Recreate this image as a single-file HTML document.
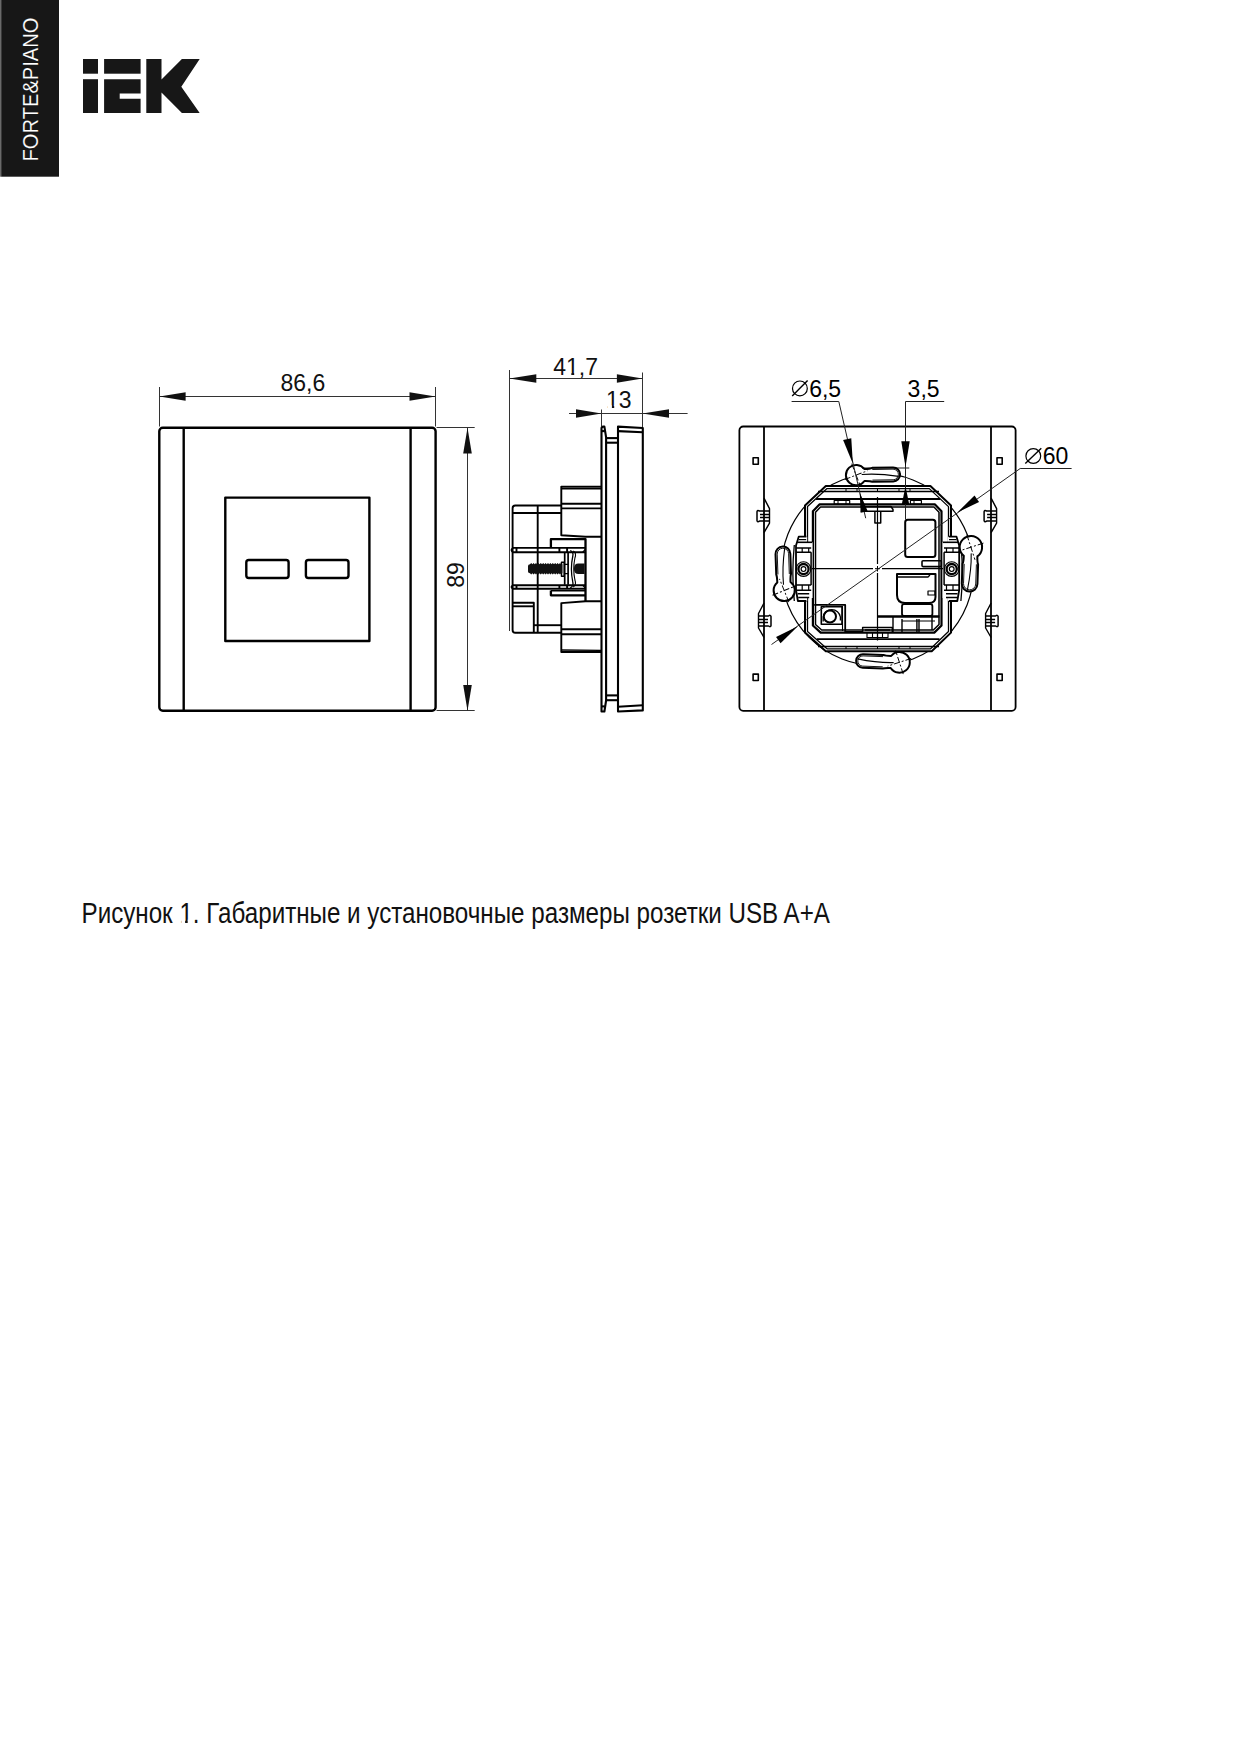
<!DOCTYPE html>
<html><head><meta charset="utf-8">
<style>
html,body{margin:0;padding:0;background:#fff;}
body{width:1239px;height:1746px;position:relative;overflow:hidden;}
svg{position:absolute;left:0;top:0;}
text{font-family:"Liberation Sans",sans-serif;}
</style></head>
<body>
<svg width="1239" height="1746" viewBox="0 0 1239 1746">
<!-- black side bar -->
<rect x="0" y="0" width="1.3" height="176.7" fill="#6a6a6a"/><rect x="1.2" y="0" width="57.8" height="176.7" fill="#171717"/>
<text transform="translate(37.9,161.5) rotate(-90)" font-size="22.8" fill="#fff" stroke="#171717" stroke-width="0.15" textLength="144" lengthAdjust="spacingAndGlyphs">FORTE&amp;PIANO</text>
<!-- IEK logo -->
<g fill="#171717">
<rect x="83" y="59" width="15" height="14.7"/>
<rect x="83" y="79.2" width="15" height="33.8"/>
<rect x="104.1" y="59" width="36.5" height="14.7"/>
<path d="M104.1 79.2H140.6V93.5H119.7V98.8H140.6V113H104.1Z"/>
<path d="M146.3 59H161.5V79.4L181.9 59H199.7L181.3 86.7L199.7 113H181.9L161.5 92.5V113H146.3Z"/>
</g>

<!-- FRONT VIEW -->
<g fill="none" stroke="#000" stroke-width="2.4" stroke-linejoin="round">
<rect x="159.3" y="427.7" width="276.3" height="283.1" rx="3.5"/>
<line x1="183.7" y1="427.7" x2="183.7" y2="710.8"/>
<line x1="410.6" y1="427.7" x2="410.6" y2="710.8"/>
<rect x="225.3" y="497.6" width="144.1" height="143.4"/>
<rect x="246.3" y="560" width="42.3" height="18" rx="2.5"/>
<rect x="305.9" y="560" width="42.6" height="18" rx="2.5"/>
</g>
<g fill="none" stroke="#333" stroke-width="1">
<line x1="159.5" y1="387" x2="159.5" y2="426.5"/>
<line x1="435.5" y1="387" x2="435.5" y2="426.5"/>
<line x1="159.5" y1="396.5" x2="435.5" y2="396.5"/>
<line x1="436.5" y1="427.5" x2="474.7" y2="427.5"/>
<line x1="436.5" y1="710.5" x2="474.7" y2="710.5"/>
<line x1="467.5" y1="427.7" x2="467.5" y2="710.8"/>
</g>
<g fill="#111">
<path d="M159.5 396.5L185.6 392.3V400.7Z"/>
<path d="M435.5 396.5L409.5 392.3V400.7Z"/>
<path d="M467.5 427.7L463.2 453.5H471.8Z"/>
<path d="M467.5 710.8L463.2 685H471.8Z"/>
</g>
<text x="280.5" y="390.5" font-size="23" fill="#111">86,6</text>
<text transform="translate(464.4,587.8) rotate(-90)" font-size="23" fill="#111">89</text>

<!-- SIDE VIEW -->
<g fill="none" stroke="#333" stroke-width="1">
<line x1="509.5" y1="370" x2="509.5" y2="631"/>
<line x1="642.5" y1="372.5" x2="642.5" y2="427"/>
<line x1="509.5" y1="378.5" x2="642.5" y2="378.5"/>
<line x1="601.5" y1="409.5" x2="601.5" y2="426"/>
<line x1="569" y1="413.5" x2="687.6" y2="413.5"/>
</g>
<g fill="#111">
<path d="M509.5 378.5L536.3 374.3V382.7Z"/>
<path d="M642.5 378.5L616.9 374.3V382.7Z"/>
<path d="M601.5 413.5L576 409.3V417.7Z"/>
<path d="M642.5 413.5L669 409.3V417.7Z"/>
</g>
<text x="553.2" y="375" font-size="23" fill="#111">41,7</text>
<text x="605.9" y="408.2" font-size="23" fill="#111">13</text>
<g fill="none" stroke="#000" stroke-width="2.1" stroke-linejoin="round">
<!-- thin plate -->
<path d="M601.5 428.5Q601.5 426.6 603.2 426.6H604.4L606.1 437.3V700.5L604.4 711.5H601.5Z"/>
<line x1="601.5" y1="431.1" x2="604.8" y2="431.1"/>
<line x1="601.5" y1="706.4" x2="604.8" y2="706.4"/>
<!-- connectors -->
<line x1="606.1" y1="438.1" x2="618" y2="438.1"/>
<line x1="606.1" y1="442.7" x2="618" y2="442.7"/>
<line x1="606.1" y1="695.4" x2="618" y2="695.4"/>
<line x1="606.1" y1="700.2" x2="618" y2="700.2"/>
<!-- front plate -->
<path d="M618 426.6L642.8 428V710.4L618 711.5Z"/>
<line x1="618" y1="431.1" x2="642.8" y2="432.2"/>
<line x1="618" y1="706.7" x2="642.8" y2="705.3"/>
</g>
<g fill="none" stroke="#000" stroke-width="1.9" stroke-linejoin="round">
<!-- upper block -->
<path d="M601.3 486.6H561.3V535.3L585.5 536.8H601.3"/>
<line x1="561.3" y1="488.5" x2="601.3" y2="488.5"/>
<line x1="561.3" y1="503.8" x2="601.3" y2="503.8"/>
<line x1="561.3" y1="508.4" x2="601.3" y2="508.4"/>
<!-- lower block -->
<path d="M601.3 601.3H585.5L561.3 603.1V652H601.3" />
<line x1="561.3" y1="629.2" x2="601.3" y2="629.2"/>
<line x1="561.3" y1="634.3" x2="601.3" y2="634.3"/>
<line x1="561.3" y1="650" x2="601.3" y2="650.4" stroke-width="1.3"/>
<!-- back box -->
<path d="M561.3 505.5H515.3Q512.6 505.5 512.6 508.2V630Q512.6 632.8 515.3 632.8H561.3"/>
<line x1="512.3" y1="513" x2="561.3" y2="513" stroke-width="2.2"/>
<line x1="537.7" y1="505.5" x2="537.7" y2="632.6"/>
<path d="M512.3 602.8H533.8V632.6"/>
<line x1="512.3" y1="606.3" x2="533.8" y2="606.3"/>
<line x1="533.8" y1="625.2" x2="561.3" y2="625.2"/>
<!-- clamp housing -->
<path d="M550.9 547.9V539.2H585.5V601.1" stroke-width="2.3"/>
<path d="M550.9 590.5V595.3H585.5" stroke-width="2.3"/><path d="M550.9 590.7H585.5" stroke-width="1.4"/>
<!-- rails -->
<path d="M513 547.9H585.3M513 552.3H585.3M513 547.9Q510 550.1 513 552.3"/>
<path d="M513 585.2H585.3M513 588.8H585.3M513 585.2Q510 587 513 588.8"/>
<line x1="516.5" y1="547.9" x2="516.5" y2="552.3"/>
<line x1="516.5" y1="585.2" x2="516.5" y2="588.8"/>
<line x1="559.4" y1="547.9" x2="559.4" y2="552.3"/>
<line x1="559.4" y1="585.2" x2="559.4" y2="588.8"/>
<line x1="567.1" y1="547.9" x2="567.1" y2="552.3"/>
<line x1="567.1" y1="585.2" x2="567.1" y2="588.8"/>
<path d="M582.5 552.3L585.3 549.5M582.5 585.2L585.3 588" stroke-width="1.2"/>
<!-- clamp parts -->
<path d="M564.7 552.3V584.7M568.1 552.3V584.7" stroke-width="1.7"/>
<path d="M564.7 564.4H568.1M564.7 573.6H568.1" stroke-width="1.3"/>
<path d="M570.2 550.5Q573.8 552 572.8 556Q570 569 572.8 582Q573.8 586 570.2 588" stroke-width="1.3"/>
<path d="M573.2 551Q576.8 553 574.9 558Q572.6 569 574.9 580Q576.8 585 573.2 587" stroke-width="1.1"/>
<rect x="561.5" y="562.2" width="2.7" height="14" stroke-width="1.5"/>
</g>
<!-- screw -->
<g fill="#111">
<path d="M528 566Q528 564.2 530 564.2L531.2 562.9L532.4 564.2L533.6 562.9L534.8 564.2L536.0 562.9L537.2 564.2L538.4 562.9L539.6 564.2L540.8 562.9L542.0 564.2L543.2 562.9L544.4 564.2L545.6 562.9L546.8 564.2L548.0 562.9L549.2 564.2L550.4 562.9L551.6 564.2L552.8 562.9L554.0 564.2L555.2 562.9L556.4 564.2L557.6 562.9L558.8 564.2L560.0 562.9L561.2 564.2L562.4 564.2V573.3L561.2 573.3L560.0 574.6L558.8 573.3L557.6 574.6L556.4 573.3L555.2 574.6L554.0 573.3L552.8 574.6L551.6 573.3L550.4 574.6L549.2 573.3L548.0 574.6L546.8 573.3L545.6 574.6L544.4 573.3L543.2 574.6L542.0 573.3L540.8 574.6L539.6 573.3L538.4 574.6L537.2 573.3L536.0 574.6L534.8 573.3L533.6 574.6L532.4 573.3L531.2 574.6L530.0 573.3L530 573.3Q528 573.3 528 571.5Z"/>
<path d="M578.5 563.4H584.6V574.1H578.5Q573.9 574.1 573.9 568.75Q573.9 563.4 578.5 563.4Z"/>
</g>
<!-- REAR VIEW -->
<g fill="none" stroke="#000" stroke-width="1.8" stroke-linejoin="round">
<rect x="739.4" y="426.5" width="276.2" height="284.3" rx="3.8"/>
<line x1="764" y1="426.5" x2="764" y2="710.8"/>
<line x1="991" y1="426.5" x2="991" y2="710.8"/>
<rect x="753.1" y="457.8" width="5.2" height="6.4" stroke-width="1.6"/>
<rect x="753.1" y="674.1" width="5.2" height="6.4" stroke-width="1.6"/>
<rect x="997.0" y="457.8" width="5.2" height="6.4" stroke-width="1.6"/>
<rect x="997.0" y="674.1" width="5.2" height="6.4" stroke-width="1.6"/>
<path d="M764 498.1L769.5 508.6V523.1L764 532.6" stroke-width="1.4"/><path d="M769.5 511.1H759.5Q757.5 509.6 757 511.6V520.6Q757.5 522.6 759.5 521.1H769.5M760 514.6H769.5M760 517.6H769.5" stroke-width="1.5"/>
<path d="M764 603.0L758.5 613.5V628.0L764 637.5" stroke-width="1.4"/><path d="M758.5 616.0H768.5Q770.5 614.5 771 616.5V625.5Q770.5 627.5 768.5 626.0H758.5M768 619.5H758.5M768 622.5H758.5" stroke-width="1.5"/>
<path d="M991.1 498.1L996.6 508.6V523.1L991.1 532.6" stroke-width="1.4"/><path d="M996.6 511.1H986.6Q984.6 509.6 984.1 511.6V520.6Q984.6 522.6 986.6 521.1H996.6M987.1 514.6H996.6M987.1 517.6H996.6" stroke-width="1.5"/>
<path d="M991.1 603.0L985.6 613.5V628.0L991.1 637.5" stroke-width="1.4"/><path d="M985.6 616.0H995.6Q997.6 614.5 998.1 616.5V625.5Q997.6 627.5 995.6 626.0H985.6M995.1 619.5H985.6M995.1 622.5H985.6" stroke-width="1.5"/>
</g>
<circle cx="877.5" cy="569.5" r="96.3" fill="none" stroke="#000" stroke-width="1.2"/>
<g fill="#fff" stroke="#000" stroke-width="1.8" stroke-linejoin="round">
<path d="M825.8 486.1H930.4L951 505.5V632.6L931.7 651.3H825.8L805 632.6V505.5Z" stroke-width="2"/>
</g>
<g fill="none" stroke="#000" stroke-width="1.5" stroke-linejoin="round">
<path d="M827 488.6H929.3L948.5 506.6V631.5L930.6 648.8H827L807.5 631.5V506.6Z" stroke-width="1.3"/>
<path d="M818 491.5H939" stroke-width="1.6"/>
<path d="M816 499H940.1" stroke-width="1.9"/>
<path d="M816.8 639.1H939.5" stroke-width="1.9"/>
<path d="M818 646.5H939" stroke-width="1.6"/>
<path d="M846 488.6V492M846 646.8V649" stroke-width="1"/>
<path d="M857 488.6V492M857 646.8V649" stroke-width="1"/>
<path d="M877.5 488.6V492M877.5 646.8V649" stroke-width="1"/>
<path d="M899 488.6V492M899 646.8V649" stroke-width="1"/>
<path d="M910 488.6V492M910 646.8V649" stroke-width="1"/>
<path d="M819.4 504.4H935L941.5 511.3V625.5L934.3 632.6H820.7L812.9 625.5V511.3Z" stroke-width="2.2"/>
<path d="M820.5 507H934L939 512.3V624.5L933.3 630H821.7L815.5 624.5V512.3Z" stroke-width="1.5"/>
<rect x="834.2" y="500.5" width="15.5" height="3.7" stroke-width="1.2"/>
<rect x="910.4" y="500.5" width="11" height="3.7" stroke-width="1.2"/>
<path d="M838 500.5V504.2M846 500.5V504.2M914 500.5V504.2" stroke-width="1"/>
<path d="M860.7 506.5H891L893 509.5V511.3H860.7" stroke-width="1.5"/>
<path d="M874.9 511.3V523H880.7V511.3" stroke-width="1.5"/>
<rect x="905.2" y="519.7" width="30.2" height="37.4" rx="2.5" stroke-width="2"/>
<rect x="922" y="560.8" width="19.4" height="5.8" rx="1" stroke-width="1.6"/>
<path d="M897 574H935.5V597Q935.5 603 929 603H905Q897 603 897 595Z" stroke-width="2"/>
<path d="M898 577H928L930 575" stroke-width="1.3"/>
<rect x="928" y="591" width="7" height="4" stroke-width="1.2"/>
<rect x="902" y="604.2" width="30.4" height="11.8" rx="2" stroke-width="1.8"/>
<path d="M877.5 616.5H939.5" stroke-width="2.4"/>
<path d="M893 616.5V632.6M902 619V632.6M916.9 619V632.6M919 619V632.6M932 617V630" stroke-width="1.4"/>
<path d="M902 621H935" stroke-width="1.2"/>
<path d="M862.6 632.6V627.5H892.3V632.6M865 630H890" stroke-width="1.4"/>
<path d="M867 632.6V637.5H888V632.6M872.5 632.6V637.5M877.5 632.6V637.5M882.5 632.6V637.5" stroke-width="1.1"/>
<path d="M814.2 604.9H845.2V632" stroke-width="1.8"/>
<path d="M842.5 606V631" stroke-width="1.1"/>
<rect x="821.3" y="606.8" width="20.7" height="17.4" stroke-width="1.6"/>
<circle cx="829.9" cy="616.5" r="6.1" stroke-width="2"/>
<path d="M823.2 621.5V617A8.7 8.7 0 0 1 840.4 617V620.5" stroke-width="1.3"/>
<path d="M845.2 632H862.6" stroke-width="2"/>
<path d="M942.6 542H948V536.7H956.5L959.2 545.5V590L957.3 601H948V598H942.6Z" fill="#fff" stroke="none"/><path d="M948.8 536.7H956.5L959.2 545.5V590L957.3 601H948.8" stroke-width="1.8"/><path d="M949 539.6H956.5" stroke-width="1.2"/><path d="M942.8 542.3H958" stroke-width="1.6"/><path d="M944 547.9H959M944 552.3H959M944 584.9H959M944 590.3H959M946 593.7H957.5M946 597.5H957" stroke-width="1.5"/><path d="M946.5 547.9V552.3M953 547.9V552.3M946.5 584.9V590.3M953 584.9V590.3" stroke-width="1.2"/><path d="M944.1 552.3V584.9" stroke-width="1.5"/><path d="M960.9 545Q963.8 573 960.9 601" stroke-width="1.3"/><circle cx="951.7" cy="569.1" r="7.3" stroke-width="1.1"/><circle cx="951.7" cy="569.1" r="5.1" stroke-width="2.3"/><circle cx="951.7" cy="569.1" r="2.4" stroke-width="1.2"/>
<g transform="translate(1755.2,0) scale(-1,1)"><path d="M942.6 542H948V536.7H956.5L959.2 545.5V590L957.3 601H948V598H942.6Z" fill="#fff" stroke="none"/><path d="M948.8 536.7H956.5L959.2 545.5V590L957.3 601H948.8" stroke-width="1.8"/><path d="M949 539.6H956.5" stroke-width="1.2"/><path d="M942.8 542.3H958" stroke-width="1.6"/><path d="M944 547.9H959M944 552.3H959M944 584.9H959M944 590.3H959M946 593.7H957.5M946 597.5H957" stroke-width="1.5"/><path d="M946.5 547.9V552.3M953 547.9V552.3M946.5 584.9V590.3M953 584.9V590.3" stroke-width="1.2"/><path d="M944.1 552.3V584.9" stroke-width="1.5"/><path d="M960.9 545Q963.8 573 960.9 601" stroke-width="1.3"/><circle cx="951.7" cy="569.1" r="7.3" stroke-width="1.1"/><circle cx="951.7" cy="569.1" r="5.1" stroke-width="2.3"/><circle cx="951.7" cy="569.1" r="2.4" stroke-width="1.2"/></g>
</g>
<g fill="#fff" stroke="#000" stroke-linejoin="round">
<g transform="translate(856.1,475.1) rotate(-1)"><path d="M8.25 -6.00Q14.25 -6.00 16.25 -7.00L37.00 -7.00A7.0 7.0 0 0 1 37.00 7.00L16.25 7.00Q14.25 6.00 8.25 6.00A10.2 10.2 0 1 1 8.25 -6.00Z" stroke-width="2"/><path d="M16.25 -5.30L37.00 -5.30A5.30 5.30 0 0 1 37.00 5.30L16.25 5.30" stroke-width="0.9"/><path d="M5.61 -0.5Q22.20 -1.5 42.60 2" stroke-width="1.1"/><path d="M-12.2 0H12.2M0 -12.2V12.2" stroke-width="0.9" stroke-dasharray="6 2 2 2" transform="rotate(-20)"/></g>
<g transform="translate(970.9,547.2) rotate(92)"><path d="M8.90 -6.80Q14.90 -6.80 16.90 -7.80L36.60 -7.80A7.8 7.8 0 0 1 36.60 7.80L16.90 7.80Q14.90 6.80 8.90 6.80A11.2 11.2 0 1 1 8.90 -6.80Z" stroke-width="2"/><path d="M16.90 -6.10L36.60 -6.10A6.10 6.10 0 0 1 36.60 6.10L16.90 6.10" stroke-width="0.9"/><path d="M6.16 -0.5Q21.96 -1.5 42.84 2" stroke-width="1.1"/><path d="M-13.2 0H13.2M0 -13.2V13.2" stroke-width="0.9" stroke-dasharray="6 2 2 2" transform="rotate(-20)"/></g>
<g transform="translate(899.4,662.3) rotate(182)"><path d="M8.49 -6.00Q14.49 -6.00 16.49 -6.80L36.50 -6.80A6.8 6.8 0 0 1 36.50 6.80L16.49 6.80Q14.49 6.00 8.49 6.00A10.4 10.4 0 1 1 8.49 -6.00Z" stroke-width="2"/><path d="M16.49 -5.10L36.50 -5.10A5.10 5.10 0 0 1 36.50 5.10L16.49 5.10" stroke-width="0.9"/><path d="M5.72 -0.5Q21.90 -1.5 41.94 2" stroke-width="1.1"/><path d="M-12.4 0H12.4M0 -12.4V12.4" stroke-width="0.9" stroke-dasharray="6 2 2 2" transform="rotate(-20)"/></g>
<g transform="translate(784.2,590.5) rotate(-92)"><path d="M8.29 -6.60Q14.29 -6.60 16.29 -7.40L36.60 -7.40A7.4 7.4 0 0 1 36.60 7.40L16.29 7.40Q14.29 6.60 8.29 6.60A10.6 10.6 0 1 1 8.29 -6.60Z" stroke-width="2"/><path d="M16.29 -5.70L36.60 -5.70A5.70 5.70 0 0 1 36.60 5.70L16.29 5.70" stroke-width="0.9"/><path d="M5.83 -0.5Q21.96 -1.5 42.52 2" stroke-width="1.1"/><path d="M-12.6 0H12.6M0 -12.6V12.6" stroke-width="0.9" stroke-dasharray="6 2 2 2" transform="rotate(-20)"/></g>
</g>
<g fill="none" stroke="#000" stroke-width="1.2">
<path d="M812 568.7H873M882 568.7H943"/>
<path d="M877.5 497V564M877.5 573V640.4"/>
<path d="M875 568.7H880M877.5 566V571.5" stroke-width="1"/>
<path d="M862 468H909.3" stroke-width="0.9"/>
</g>
<g fill="none" stroke="#222" stroke-width="1">
<path d="M771.5 644.5L1020.2 468.5H1071.6"/>
<path d="M791.6 401.5H838.8L865.7 518.2"/>
<path d="M944.2 401.5H905.5V519.6"/>
</g>
<g fill="#000">
<path d="M957.20 512.60L974.54 495.55L979.04 501.92Z"/>
<path d="M797.90 626.30L780.56 643.35L776.06 636.98Z"/>
<path d="M852.80 463.50L843.11 440.07L851.30 438.19Z"/>
<path d="M859.70 492.50L867.68 511.19L860.67 512.80Z"/>
<path d="M905.50 467.10L901.30 441.30L909.70 441.30Z"/>
<path d="M905.50 486.20L909.20 504.20L901.80 504.20Z"/>
</g>
<text x="809.2" y="396.6" font-size="23" fill="#000">6,5</text><circle cx="799.9" cy="388.4" r="7.4" fill="none" stroke="#000" stroke-width="1.2"/><path d="M792.2 396.1L807.6 380.6" stroke="#000" stroke-width="1.4"/>
<text x="907.6" y="397" font-size="23" fill="#000">3,5</text>
<text x="1042.7" y="464.2" font-size="23" fill="#000">60</text><circle cx="1033.3" cy="456" r="7.4" fill="none" stroke="#000" stroke-width="1.2"/><path d="M1025.3 463.4L1041.3 448.3" stroke="#000" stroke-width="1.4"/>
<!-- /REAR -->
<!-- caption -->
<text x="81.5" y="922.8" font-size="29.6" fill="#111" textLength="748.5" lengthAdjust="spacingAndGlyphs">Рисунок 1. Габаритные и установочные размеры розетки USB A+A</text>
<g fill="#fff">
<rect x="566.3" y="372.9" width="5" height="2.8"/><rect x="574.2" y="372.9" width="4.5" height="2.8"/>
<rect x="607.4" y="405.4" width="4.5" height="3"/><rect x="614.2" y="405.4" width="4.8" height="3"/>
<rect x="181.3" y="919.7" width="3.8" height="3.6"/><rect x="187.7" y="919.7" width="5" height="3.6"/>
</g>
</svg>
</body></html>
